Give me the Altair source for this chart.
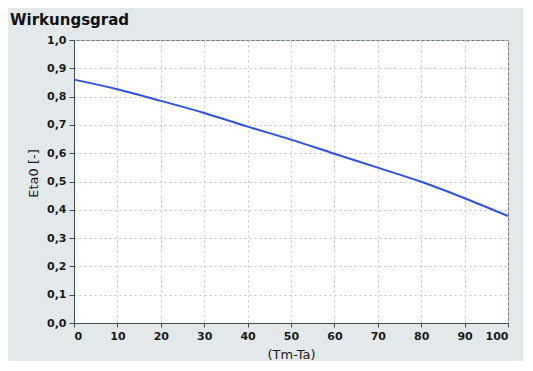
import altair as alt
import pandas as pd

x_vals = [0, 10, 20, 30, 40, 50, 60, 70, 80, 90, 100]
eta_vals = [0.860, 0.826, 0.785, 0.742, 0.694, 0.648, 0.598, 0.549, 0.499, 0.441, 0.378]

df = pd.DataFrame({"dT": x_vals, "eta": eta_vals})

comma_fmt = "replace(format(datum.value, '.1f'), '.', ',')"

chart = alt.Chart(df).mark_line(color="#2f50e6", strokeWidth=2, interpolate="monotone").encode(
    x=alt.X("dT:Q", scale=alt.Scale(domain=[0, 100], nice=False),
            axis=alt.Axis(title="(Tm-Ta)", values=list(range(0, 101, 10)),
                          labelFont="DejaVu Sans", labelFontWeight="bold", labelFontSize=11,
                          labelColor="#1a1a1a", tickSize=4, labelPadding=3,
                          titleFont="DejaVu Sans", titleFontSize=13, titleFontWeight="normal",
                          titleColor="#1a1a1a", titlePadding=7,
                          domainColor="#3f4d4d", tickColor="#3f4d4d",
                          grid=True, gridColor="#bfc4c7", gridDash=[2, 3])),
    y=alt.Y("eta:Q", scale=alt.Scale(domain=[0, 1], nice=False),
            axis=alt.Axis(title="Eta0 [-]", values=[i / 10 for i in range(11)],
                          labelExpr=comma_fmt,
                          labelFont="DejaVu Sans", labelFontWeight="bold", labelFontSize=11,
                          labelColor="#1a1a1a", tickSize=5, labelPadding=3,
                          titleFont="DejaVu Sans", titleFontSize=13, titleFontWeight="normal",
                          titleColor="#1a1a1a", titleAngle=-90, titleAlign="center",
                          titleBaseline="middle", titleX=-41, titleY=133,
                          domainColor="#3f4d4d", tickColor="#3f4d4d",
                          grid=True, gridColor="#bfc4c7", gridDash=[2, 3])),
).properties(
    width=434, height=283,
    title=alt.TitleParams("Wirkungsgrad", anchor="start", frame="group",
                          font="DejaVu Sans", fontSize=15, fontWeight="bold",
                          color="#111111", dx=-64, offset=6),
    background="#e3e9eb",
    autosize=alt.AutoSizeParams(type="none"),
    padding={"left": 66, "top": 32, "right": 15, "bottom": 38},
).configure_view(fill="white", stroke="#6a7a7a", strokeWidth=1)

chart.save("out.html", embed_options={"renderer": "svg", "actions": False})
